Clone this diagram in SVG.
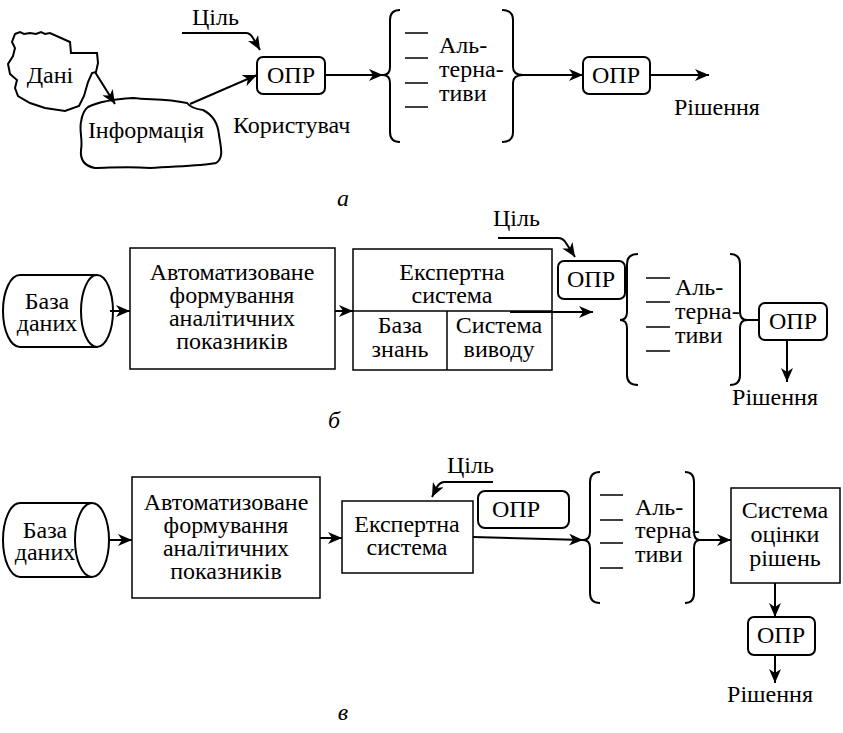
<svg xmlns="http://www.w3.org/2000/svg" width="843" height="733" viewBox="0 0 843 733">
  <style>
    text { font-family: "Liberation Serif", "Times New Roman", serif; font-size: 24px; fill: #000; }
    .c { text-anchor: middle; }
    .it { font-style: italic; }
    .box { fill: #fff; stroke: #000; stroke-width: 1.5; }
    .opr { fill: #fff; stroke: #000; stroke-width: 2; }
    .ln { fill: none; stroke: #000; stroke-width: 2; }
    .thin { fill: none; stroke: #000; stroke-width: 1.5; }
    .arr { fill: none; stroke: #000; stroke-width: 2; marker-end: url(#ah); }
  </style>
  <defs>
    <marker id="ah" markerUnits="userSpaceOnUse" markerWidth="16" markerHeight="12" refX="14" refY="6" orient="auto">
      <path d="M0,0 L14,6 L0,12 L4,6 Z" fill="#000"/>
    </marker>
  </defs>
  <rect width="843" height="733" fill="#fff"/>

  <!-- ===== Scheme a ===== -->
  <g id="a-dani">
    <path class="ln" d="M15,34 L20,32 L24,34 L30,33 L36,34 L41,32 L45,34 L50,33 L70,42 L71,53 L97,53 L98,63 L96,72 L92,73 L88,82 L84,96 L79,106 L65,111 L45,108 L30,103 L18,96 L15,88 L17,80 L10,74 L8,64 L13,56 L15,48 L12,42 Z"/>
    <text class="c" x="50" y="83">Дані</text>
  </g>
  <g id="a-info">
    <path class="ln" d="M88,107 C100,101 115,99 133,98 C150,100 165,98 187,103 C190,107 195,109 203,110 C213,115 218,124 219,135 C221,148 224,158 216,163 C200,166 180,166 150,168 C125,166 110,168 95,168 C84,166 80,160 81,150 C83,140 79,130 81,122 C82,115 84,110 88,107 Z"/>
    <text class="c" x="146" y="138">Інформація</text>
  </g>
  <g id="a-tsil">
    <text x="192" y="25">Ціль</text>
  </g>
  <g id="a-opr1">
    <rect class="opr" x="257" y="57" width="68" height="37" rx="6"/>
    <text class="c" x="291" y="83">ОПР</text>
  </g>
  <g id="a-user">
    <text x="233" y="133">Користувач</text>
  </g>
  <g id="a-alt">
    <path class="ln" d="M400,10 Q390,10 390,20 L390,67 Q390,75 383,75 Q390,75 390,83 L390,132 Q390,142 400,142"/>
    <path class="thin" d="M405,33 H428 M405,58 H428 M405,83 H428 M405,107 H428"/>
    <text x="439" y="53">Аль-</text>
    <text x="439" y="77">терна-</text>
    <text x="439" y="101">тиви</text>
    <path class="ln" d="M502,10 Q513,10 513,20 L513,67 Q513,75 523,75 Q513,75 513,83 L513,132 Q513,142 502,142"/>
  </g>
  <g id="a-opr2">
    <rect class="opr" x="583" y="57" width="67" height="37" rx="6"/>
    <text class="c" x="616" y="83">ОПР</text>
  </g>
  <g id="a-result">
    <text x="674" y="115">Рішення</text>
  </g>
  <text class="it c" x="343" y="206">а</text>

  <!-- ===== Scheme б ===== -->
  <g id="b-db">
    <path class="ln" d="M97,275 L20,275 A17,36 0 0 0 20,347 L97,347"/>
    <ellipse class="ln" cx="97" cy="311" rx="16" ry="36"/>
    <text class="c" x="47" y="309">База</text>
    <text class="c" x="47" y="331">даних</text>
  </g>
  <g id="b-auto">
    <rect class="box" x="130" y="248" width="205" height="121"/>
    <text class="c" x="232" y="280">Автоматизоване</text>
    <text class="c" x="232" y="303">формування</text>
    <text class="c" x="232" y="326">аналітичних</text>
    <text class="c" x="232" y="349">показників</text>
  </g>
  <g id="b-expert">
    <rect class="box" x="353" y="249" width="199" height="121"/>
    <path class="thin" d="M353,311 H552 M447,311 V370"/>
    <text class="c" x="452" y="280">Експертна</text>
    <text class="c" x="452" y="303">система</text>
    <text class="c" x="400" y="333">База</text>
    <text class="c" x="400" y="357">знань</text>
    <text class="c" x="499" y="333">Система</text>
    <text class="c" x="499" y="357">виводу</text>
  </g>
  <g id="b-tsil">
    <text x="493" y="226">Ціль</text>
  </g>
  <g id="b-opr1">
    <rect class="opr" x="558" y="261" width="67" height="38" rx="6"/>
    <text class="c" x="591" y="287">ОПР</text>
  </g>
  <g id="b-alt">
    <path class="ln" d="M638,254 Q627,254 627,264 L627,312 Q627,320 620,320 Q627,320 627,328 L627,375 Q627,385 638,385"/>
    <path class="thin" d="M646,278 H670 M646,302 H670 M646,327 H670 M646,351 H670"/>
    <text x="675" y="295">Аль-</text>
    <text x="675" y="319">терна-</text>
    <text x="675" y="343">тиви</text>
    <path class="ln" d="M730,254 Q740,254 740,264 L740,312 Q740,320 747,320 Q740,320 740,328 L740,375 Q740,385 730,385"/>
  </g>
  <g id="b-opr2">
    <rect class="opr" x="759" y="303" width="68" height="37" rx="6"/>
    <text class="c" x="793" y="329">ОПР</text>
  </g>
  <g id="b-result">
    <text class="c" x="775" y="405">Рішення</text>
  </g>
  <text class="it c" x="334" y="428">б</text>

  <!-- ===== Scheme в ===== -->
  <g id="c-db">
    <path class="ln" d="M92,503 L20,503 A17,37 0 0 0 20,577 L92,577"/>
    <ellipse class="ln" cx="92" cy="540" rx="17" ry="37"/>
    <text class="c" x="45" y="538">База</text>
    <text class="c" x="45" y="560">даних</text>
  </g>
  <g id="c-auto">
    <rect class="box" x="132" y="477" width="188" height="121"/>
    <text class="c" x="226" y="510">Автоматизоване</text>
    <text class="c" x="226" y="533">формування</text>
    <text class="c" x="226" y="556">аналітичних</text>
    <text class="c" x="226" y="579">показників</text>
  </g>
  <g id="c-expert">
    <rect class="box" x="342" y="501" width="131" height="72"/>
    <text class="c" x="407" y="532">Експертна</text>
    <text class="c" x="407" y="555">система</text>
  </g>
  <g id="c-tsil">
    <text x="447" y="473">Ціль</text>
  </g>
  <g id="c-opr1">
    <rect class="opr" x="478" y="491" width="91" height="37" rx="7"/>
    <text class="c" x="516" y="517">ОПР</text>
  </g>
  <g id="c-alt">
    <path class="ln" d="M600,472 Q590,472 590,482 L590,532 Q590,540 583,540 Q590,540 590,548 L590,593 Q590,603 600,603"/>
    <path class="thin" d="M600,495 H623 M600,520 H623 M600,543 H623 M600,568 H623"/>
    <text x="635" y="515">Аль-</text>
    <text x="635" y="538">терна-</text>
    <text x="635" y="562">тиви</text>
    <path class="ln" d="M685,472 Q694,472 694,482 L694,532 Q694,540 700,540 Q694,540 694,548 L694,593 Q694,603 685,603"/>
  </g>
  <g id="c-eval">
    <rect class="box" x="731" y="488" width="109" height="95"/>
    <text class="c" x="785" y="518">Система</text>
    <text class="c" x="785" y="542">оцінки</text>
    <text class="c" x="785" y="566">рішень</text>
  </g>
  <g id="c-opr2">
    <rect class="opr" x="748" y="617" width="67" height="38" rx="6"/>
    <text class="c" x="781" y="643">ОПР</text>
  </g>
  <g id="c-result">
    <text class="c" x="770" y="702">Рішення</text>
  </g>
  <text class="it c" x="343" y="720">в</text>

  <!-- ===== Connectors ===== -->
  <g id="connectors">
    <!-- a -->
    <path class="arr" d="M182,33 L246,33 Q250,33 253,38 L260,50"/>
    <path class="arr" d="M95,72 L115,104"/>
    <path class="arr" d="M190,104 L257,75"/>
    <path class="arr" d="M325,75 L383,75"/>
    <path class="arr" d="M523,75 L583,75"/>
    <path class="arr" d="M650,75 L709,75"/>
    <!-- б -->
    <path class="arr" d="M498,238 L558,238 Q563,238 566,243 L575,257"/>
    <path class="arr" d="M110,311 L130,311"/>
    <path class="arr" d="M335,311 L353,311"/>
    <path class="arr" d="M510,312 L593,312"/>
    <path class="ln" d="M747,320 L759,320"/>
    <path class="arr" d="M787,340 L787,382"/>
    <!-- в -->
    <path class="arr" d="M493,482 L445,482 Q440,482 437,487 L432,497"/>
    <path class="arr" d="M110,540 L132,540"/>
    <path class="arr" d="M320,538 L342,538"/>
    <path class="arr" d="M473,537 L583,540"/>
    <path class="arr" d="M700,540 L731,540"/>
    <path class="arr" d="M775,583 L775,617"/>
    <path class="arr" d="M775,655 L775,683"/>
  </g>
</svg>
